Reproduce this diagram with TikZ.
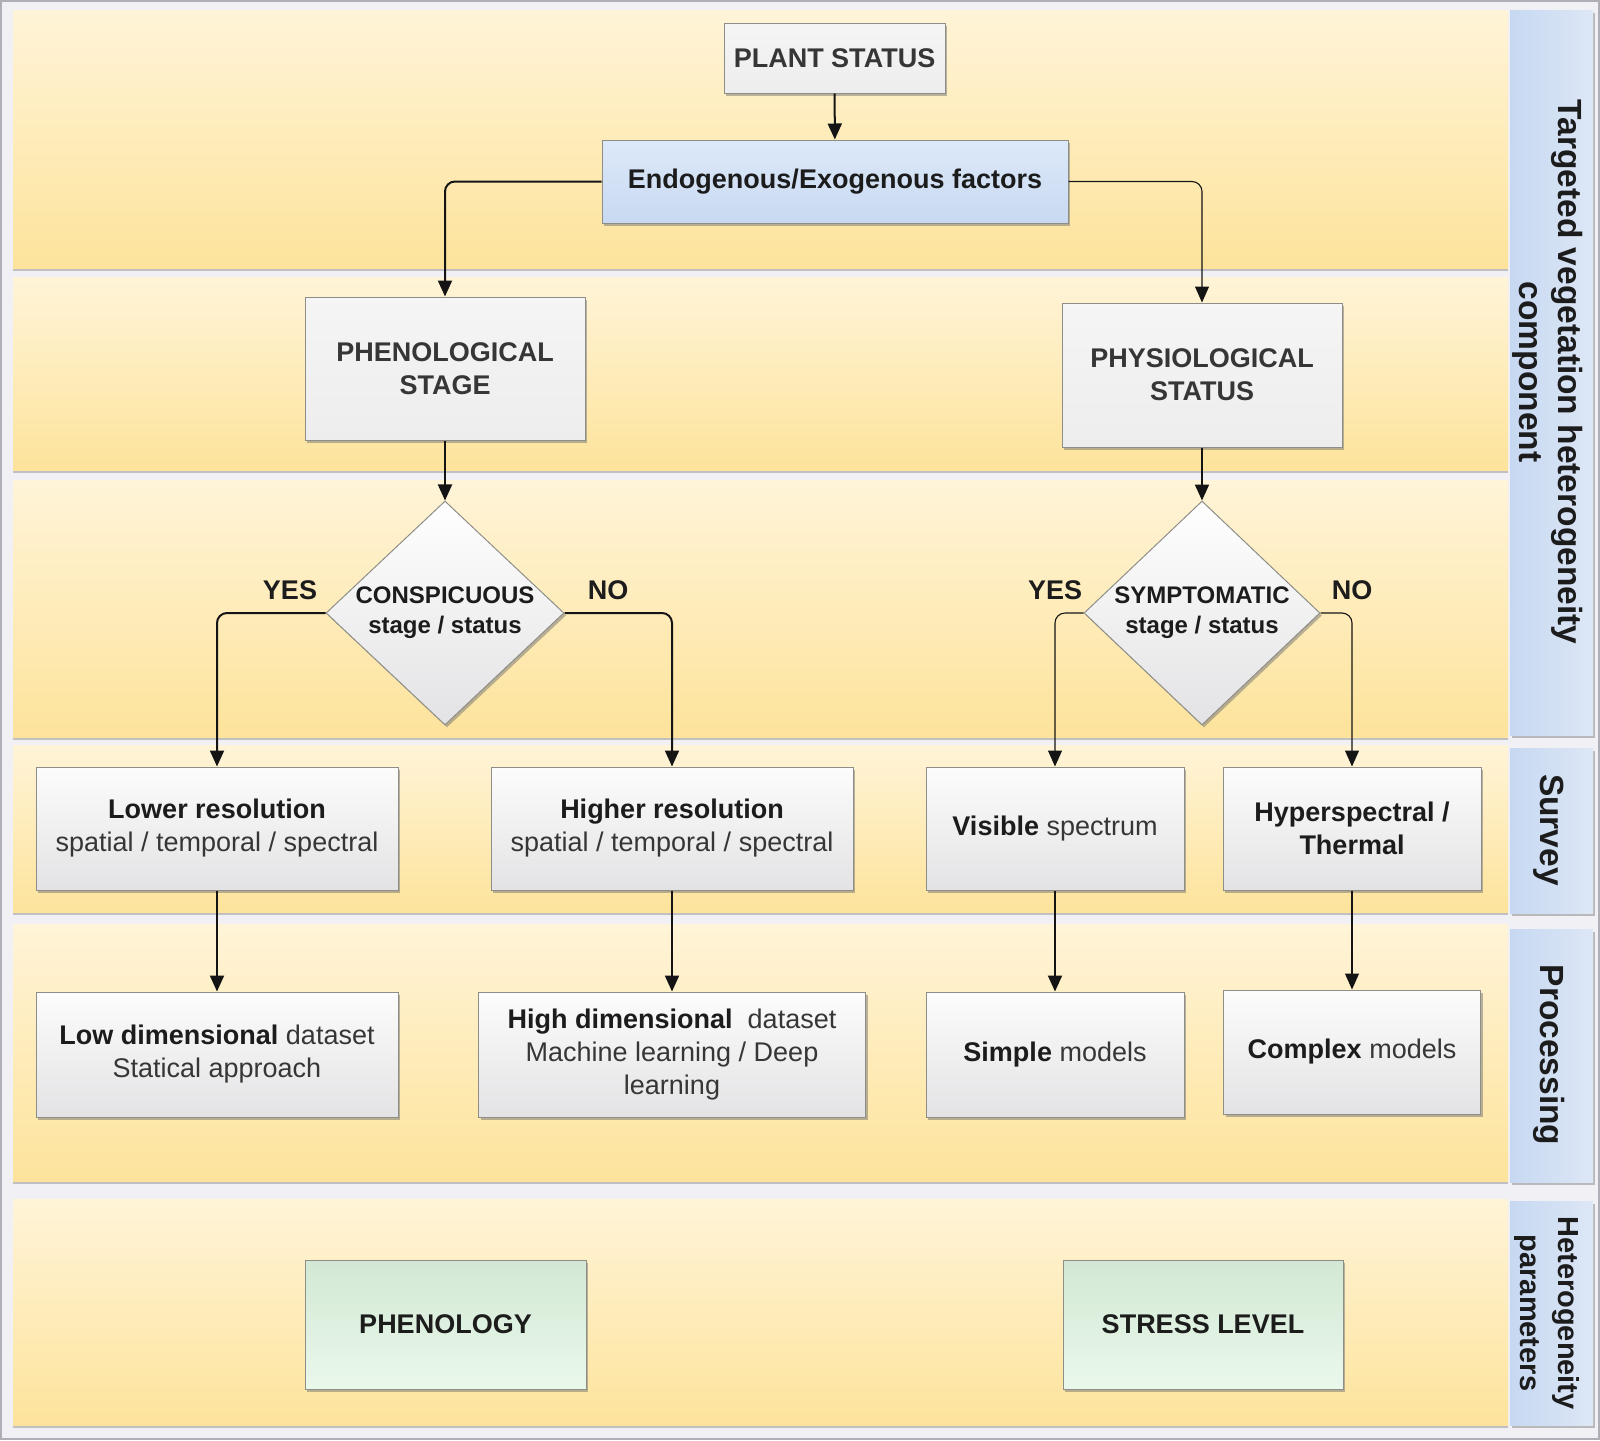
\documentclass[tikz,border=0pt]{standalone}
\usepackage{fontspec}
\setmainfont{Liberation Sans}
\usetikzlibrary{arrows.meta,shapes.geometric,shadows}

\definecolor{bgc}{HTML}{F1F1F5}
\definecolor{framec}{HTML}{AEAEB6}
\definecolor{bandtop}{HTML}{FFF4D8}
\definecolor{bandbot}{HTML}{FDE39B}
\definecolor{lblleft}{HTML}{C6D8F1}
\definecolor{lblright}{HTML}{DDE7F6}
\definecolor{edgec}{HTML}{8E8E88}
\definecolor{boxtop}{HTML}{FCFCFC}
\definecolor{boxbot}{HTML}{E3E3E5}
\definecolor{bluetop}{HTML}{DDE9F9}
\definecolor{bluebot}{HTML}{C8D9F1}
\definecolor{greentop}{HTML}{D2E8D4}
\definecolor{greenbot}{HTML}{EAF8EB}
\definecolor{txtd}{HTML}{1C1C1C}
\definecolor{txtg}{HTML}{363636}

\tikzset{
  softshadow/.style={drop shadow={shadow xshift=2pt,shadow yshift=-2.5pt,opacity=0.5,fill=black!55}},
  band/.style={top color=bandtop,bottom color=bandbot,
    drop shadow={shadow xshift=0pt,shadow yshift=-2.5pt,opacity=0.35,fill=black!60}},
  lblbox/.style={left color=lblleft,right color=lblright,
    drop shadow={shadow xshift=2pt,shadow yshift=-2.5pt,opacity=0.4,fill=black!60}},
  lbltext/.style={rotate=-90,align=center,text=txtd,
    font=\fontsize{33.5}{39}\selectfont\bfseries},
  box/.style={draw=edgec,line width=1pt,top color=boxtop,bottom color=boxbot,
    softshadow,align=center,inner sep=4pt,text=txtd,
    font=\fontsize{27}{33}\selectfont},
  graybox/.style={box,top color=white!92!gray,bottom color=white!86!gray,text=txtg},
  bluebox/.style={box,top color=bluetop,bottom color=bluebot},
  greenbox/.style={box,top color=greentop,bottom color=greenbot},
  decision/.style={diamond,draw=edgec,line width=1pt,top color=white,bottom color=boxbot,
    softshadow,inner sep=0pt,aspect=1.06,minimum width=238,minimum height=224},
  dectext/.style={align=center,text=txtd,font=\fontsize{24}{30}\selectfont\bfseries},
  answer/.style={text=txtd,font=\fontsize{27}{33}\selectfont\bfseries},
  arr/.style={draw=black!92,line width=2pt,rounded corners=10pt,
    -{Triangle[length=16pt,width=14pt]}},
  arrthin/.style={arr,line width=1.1pt},
}

\begin{document}
\begin{tikzpicture}[x=1pt,y=-1pt]
% page background and frame
\useasboundingbox (0,0) rectangle (1600,1440);
\fill[bgc] (0,0) rectangle (1600,1440);
\draw[framec,line width=2pt] (1,1) rectangle (1599,1439);

% horizontal lanes
\path[band] (13,10)   rectangle (1508,268);
\path[band] (13,277)  rectangle (1508,470);
\path[band] (13,480)  rectangle (1508,737);
\path[band] (13,745)  rectangle (1508,912);
\path[band] (13,924)  rectangle (1508,1181);
\path[band] (13,1199) rectangle (1508,1425);

% lane titles
\path[lblbox] (1510,10)   rectangle (1593,735);
\path[lblbox] (1510,748)  rectangle (1593,913);
\path[lblbox] (1510,929)  rectangle (1593,1182);
\path[lblbox] (1510,1201) rectangle (1593,1425);
\node[lbltext] (lanea) at (1548,372) {Targeted vegetation heterogeneity\\component};
\node[lbltext] (laneb) at (1549,830) {Survey};
\node[lbltext] (lanec) at (1549,1055) {Processing};
\node[lbltext,font=\fontsize{29}{38}\selectfont\bfseries] (laned) at (1547,1313) {Heterogeneity\\parameters};

% top of the flow
\node[graybox,minimum width=221,minimum height=70] (plant) at (834.5,58) {\textbf{PLANT STATUS}};
\node[bluebox,minimum width=466,minimum height=83] (endo) at (835,181.5) {\textbf{Endogenous/Exogenous factors}};
\node[graybox,minimum width=280,minimum height=143] (pheno) at (445,368.5) {\textbf{PHENOLOGICAL}\\\textbf{STAGE}};
\node[graybox,minimum width=280,minimum height=144] (physio) at (1202,375) {\textbf{PHYSIOLOGICAL}\\\textbf{STATUS}};

% decisions
\node[decision] (consp) at (445,613) {};
\node[dectext] (consptxt) at (consp.center) {CONSPICUOUS\\stage / status};
\node[decision,minimum width=236] (sympt) at (1202,613) {};
\node[dectext] (symptxt) at (sympt.center) {SYMPTOMATIC\\stage / status};

\node[answer] (yesa) at (290,590) {YES};
\node[answer] (noa)  at (608,590) {NO};
\node[answer] (yesb) at (1055,590) {YES};
\node[answer] (nob)  at (1352,590) {NO};

% survey
\node[box,minimum width=362,minimum height=123] (lowres) at (217,828.5)
  {\textbf{Lower resolution}\\\textcolor{txtg}{spatial / temporal / spectral}};
\node[box,minimum width=362,minimum height=123] (highres) at (672,828.5)
  {\textbf{Higher resolution}\\\textcolor{txtg}{spatial / temporal / spectral}};
\node[box,minimum width=258,minimum height=123] (visible) at (1055,828.5)
  {\textbf{Visible} \textcolor{txtg}{spectrum}};
\node[box,minimum width=258,minimum height=123] (hyper) at (1352,828.5)
  {\textbf{Hyperspectral /}\\\textbf{Thermal}};

% processing
\node[box,minimum width=362,minimum height=125] (lowdim) at (217,1054.5)
  {\textbf{Low dimensional} \textcolor{txtg}{dataset}\\\textcolor{txtg}{Statical approach}};
\node[box,minimum width=387,minimum height=125] (highdim) at (672,1054.5)
  {\textbf{High dimensional}\ \ \textcolor{txtg}{dataset}\\\textcolor{txtg}{Machine learning / Deep}\\\textcolor{txtg}{learning}};
\node[box,minimum width=258,minimum height=125] (simple) at (1055,1054.5)
  {\textbf{Simple} \textcolor{txtg}{models}};
\node[box,minimum width=257,minimum height=124] (complex) at (1352,1052)
  {\textbf{Complex} \textcolor{txtg}{models}};

% heterogeneity parameters
\node[greenbox,minimum width=281,minimum height=129] (phenology) at (445.5,1324.5) {\textbf{PHENOLOGY}};
\node[greenbox,minimum width=280,minimum height=129] (stress) at (1203,1324.5) {\textbf{STRESS LEVEL}};

% connectors
\draw[arr] (plant) -- (endo);
\draw[arr] (endo.west) -| (pheno.north);
\draw[arrthin] (endo.east) -| (physio.north);
\draw[arr] (pheno) -- (consp);
\draw[arr] (physio) -- (sympt);
\draw[arr] (consp.west) -| (lowres.north);
\draw[arr] (consp.east) -| (highres.north);
\draw[arrthin] (sympt.west) -| (visible.north);
\draw[arrthin] (sympt.east) -| (hyper.north);
\draw[arr] (lowres) -- (lowdim);
\draw[arr] (highres) -- (highdim);
\draw[arr] (visible) -- (simple);
\draw[arrthin] (hyper) -- (complex);
\end{tikzpicture}
\end{document}
